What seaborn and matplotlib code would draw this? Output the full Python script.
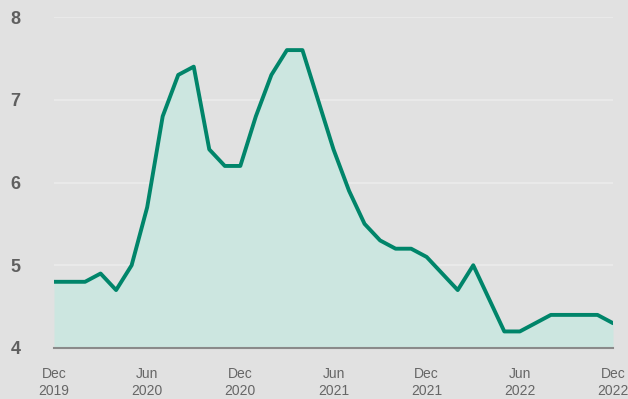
import matplotlib
matplotlib.use("Agg")
import matplotlib.pyplot as plt
import seaborn as sns
import pandas as pd
import numpy as np

months = list(range(37))
values = [4.8, 4.8, 4.8, 4.9, 4.7, 5.0, 5.7, 6.8, 7.3, 7.4, 6.4, 6.2,
          6.2, 6.8, 7.3, 7.6, 7.6, 7.0, 6.4, 5.9, 5.5, 5.3, 5.2, 5.2,
          5.1, 4.9, 4.7, 5.0, 4.6, 4.2, 4.2, 4.3, 4.4, 4.4, 4.4, 4.4, 4.3]
tick_pos = [0, 6, 12, 18, 24, 30, 36]
tick_labels = ["Dec\n2019", "Jun\n2020", "Dec\n2020", "Jun\n2021",
               "Dec\n2021", "Jun\n2022", "Dec\n2022"]
y_ticks = [4, 5, 6, 7, 8]

df = pd.DataFrame({"month": months, "value": values})

sns.set_theme(style="white")
plt.rcParams['font.family'] = ['Liberation Sans', 'DejaVu Sans']

bg = "#e1e1e1"
fig = plt.figure(figsize=(6.28, 3.99), dpi=100, facecolor=bg)
ax = fig.add_axes([54/628, 51/399, (613-54)/628, (348-17)/399])
ax.set_facecolor(bg)

ax.fill_between(df["month"], df["value"], 4, color="#cce6e0", zorder=2, linewidth=0)
sns.lineplot(data=df, x="month", y="value", ax=ax, color="#00856a",
             linewidth=2.8, zorder=3)

ax.set_xlim(0, 36)
ax.set_ylim(4, 8)
ax.set_yticks(y_ticks)
ax.set_yticklabels([str(t) for t in y_ticks], fontsize=13, fontweight="bold", color="#5f5f5f")
ax.set_xticks(tick_pos)
ax.set_xticklabels(tick_labels, fontsize=10, color="#666666", linespacing=1.2)
ax.tick_params(axis="y", length=0, pad=24)
ax.tick_params(axis="x", length=0, pad=14)

ax.grid(axis="y", color="#ebebeb", linewidth=1.2, zorder=1)
ax.grid(axis="x", visible=False)
for s in ["top", "right", "left"]:
    ax.spines[s].set_visible(False)
ax.spines["bottom"].set_color("#8a8a8a")
ax.spines["bottom"].set_linewidth(1.5)
ax.spines["bottom"].set_zorder(4)
ax.set_xlabel("")
ax.set_ylabel("")

fig.savefig("out.png", dpi=100, facecolor=bg)
